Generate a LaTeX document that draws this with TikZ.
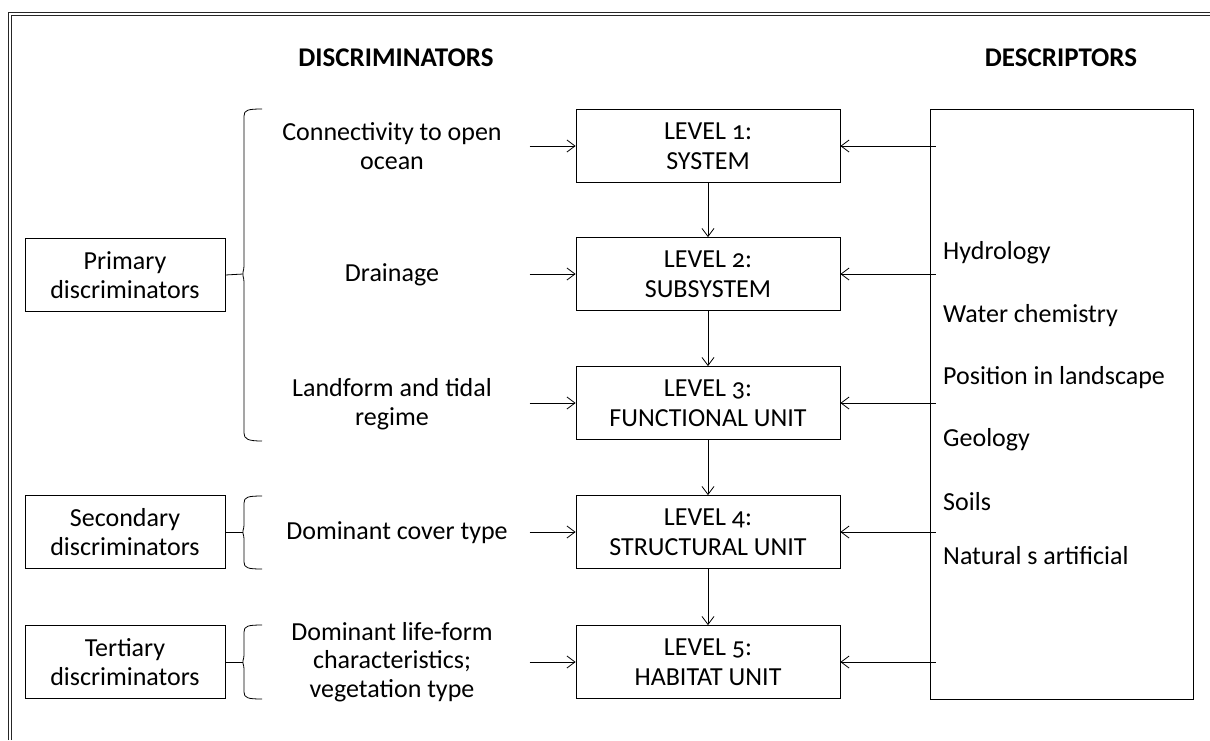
\documentclass[tikz,border=0pt]{standalone}
\usepackage{fontspec}
\setmainfont[Numbers=OldStyle]{Carlito}
\usetikzlibrary{arrows.meta}
\begin{document}
\begin{tikzpicture}[x=1pt,y=-1pt,
  box/.style={draw, line width=0.8pt, minimum width=264pt, minimum height=73pt, align=center, inner sep=0pt, font=\fontsize{26}{30}\selectfont},
  lbox/.style={draw, line width=0.8pt, minimum width=200pt, minimum height=73pt, align=center, inner sep=0pt, font=\fontsize{26}{29}\selectfont},
  lab/.style={align=center, inner sep=0pt, font=\fontsize{26}{28.5}\selectfont},
  dlab/.style={anchor=west, inner sep=0pt, font=\fontsize{26}{29}\selectfont},
  head/.style={inner sep=0pt, font=\fontsize{27}{30}\selectfont\bfseries},
  arr/.style={-{Straight Barb[length=8pt,width=12pt]}, line width=0.8pt},
  brc/.style={line width=0.8pt}
]
\useasboundingbox (0,0) rectangle (1210,740);
% frame
\draw[line width=1.6pt, black!85] (8.5,740) -- (8.5,12.5) -- (1210,12.5);
\draw[line width=0.7pt, black!85] (11.5,740) -- (11.5,15.5) -- (1210,15.5);
% headings
\node[head] (hd) at (396,58) {DISCRIMINATORS};
\node[head] (hs) at (1061,58) {DESCRIPTORS};
% level boxes
\node[box] (L1) at (708,146) {LEVEL 1:\\SYSTEM};
\node[box] (L2) at (708,274) {LEVEL 2:\\SUBSYSTEM};
\node[box] (L3) at (708,403) {LEVEL 3:\\FUNCTIONAL UNIT};
\node[box] (L4) at (708,532) {LEVEL 4:\\STRUCTURAL UNIT};
\node[box] (L5) at (708,662) {LEVEL 5:\\HABITAT UNIT};
% descriptors box
\node[draw, line width=0.8pt, minimum width=263pt, minimum height=590pt, inner sep=0pt] (D) at (1061.5,404) {};
\node[dlab] (d1) at (943,253) {Hydrology};
\node[dlab] (d2) at (943,316) {Water chemistry};
\node[dlab] (d3) at (943,378) {Position in landscape};
\node[dlab] (d4) at (943,440) {Geology};
\node[dlab] (d5) at (943,502) {Soils};
\node[dlab] (d6) at (943,556) {Natural s artificial};
% left boxes
\node[lbox] (P) at (125,275) {Primary\\discriminators};
\node[lbox] (S) at (125,532) {Secondary\\discriminators};
\node[lbox] (T) at (125,662) {Tertiary\\discriminators};
% discriminator labels
\node[lab] (c1) at (392,146) {Connectivity to open\\ocean};
\node[lab] (c2) at (392,275) {Drainage};
\node[lab] (c3) at (392,404) {Landform and tidal\\regime};
\node[lab] (c4) at (397,533) {Dominant cover type};
\node[lab] (c5) at (392,662) {Dominant life-form\\characteristics;\\vegetation type};
% vertical arrows
\draw[arr] (L1) -- (L2);
\draw[arr] (L2) -- (L3);
\draw[arr] (L3) -- (L4);
\draw[arr] (L4) -- (L5);
% left and right arrows
\foreach \n in {L1,L2,L3,L4,L5}{
  \coordinate (a\n) at ([xshift=-46pt]\n.west);
  \draw[arr] (a\n) -- (\n.west);
  \coordinate (b\n) at ([xshift=6pt]D.west |- \n.east);
  \draw[arr] (b\n) -- (\n.east);
}
% braces
\coordinate (pb) at (243,274);
\draw[brc] (262,109) .. controls (248,109) and (244,110) .. (244,116) -- (244,266) .. controls (244,271) and (242,273) .. (pb) .. controls (242,275) and (244,277) .. (244,282) -- (244,433) .. controls (244,439) and (248,441) .. (262,441);
\draw[brc] (P.east) -- (pb);
\coordinate (sb) at (243,532);
\draw[brc] (262,496) .. controls (248,496) and (244,497) .. (244,503) -- (244,525) .. controls (244,530) and (242,531) .. (sb) .. controls (242,533) and (244,534) .. (244,539) -- (244,562) .. controls (244,568) and (248,569) .. (262,569);
\draw[brc] (S.east) -- (sb);
\coordinate (tb) at (243,662);
\draw[brc] (262,625) .. controls (248,625) and (244,626) .. (244,632) -- (244,655) .. controls (244,660) and (242,661) .. (tb) .. controls (242,663) and (244,664) .. (244,669) -- (244,692) .. controls (244,698) and (248,699) .. (262,699);
\draw[brc] (T.east) -- (tb);
\end{tikzpicture}
\end{document}
